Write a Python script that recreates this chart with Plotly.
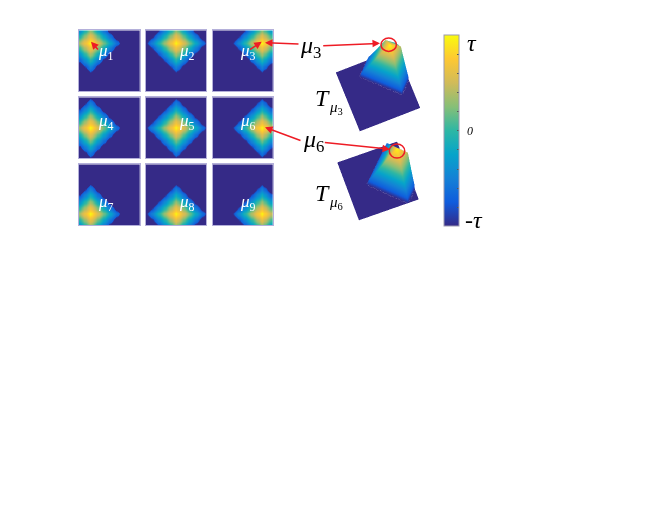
import plotly.graph_objects as go

# the page adds an 8px body margin round the figure
PAGE_MARGIN = 8
W, H = 652, 501

# value of the map by grid distance from mu (yellow peak down to the blue rim)
LEVELS = [1.0, 0.90, 0.82, 0.76, 0.70, 0.64, 0.58, 0.52, 0.45, 0.38, 0.30, 0.22, 0.14,
          0.06, -0.02, -0.10, -0.18, -0.26, -0.33, -0.40, -0.47, -0.54, -0.60, -0.67, -0.72]
BACKGROUND = -1.0
GRID_N = 51
COL_CENTERS = [9, 25, 41]
ROW_CENTERS = [10, 25, 41]
PANEL_NAMES = ["1", "2", "3", "4", "5", "6", "7", "8", "9"]
PARULA = ["#352a87", "#0f5cdd", "#1481d6", "#06a4ca", "#2eb7a4", "#87bf77", "#d1bb59", "#fec832", "#f9fb0e"]
BAR_TICKS = [-1.0, -0.8, -0.6, -0.4, -0.2, 0.0, 0.2, 0.4, 0.6, 0.8, 1.0]

# panel edges in pixels
COL_X = [(79, 139.7), (145.7, 206.3), (212.7, 273)]
ROW_Y = [(30.3, 91.3), (97.3, 158), (164.3, 225)]
LABEL_X = [105.7, 187.3, 248.3]
LABEL_Y = [51.7, 121.7, 203.3]


def px(x):
    return (x - PAGE_MARGIN) / W


def py(y):
    return 1 - (y - PAGE_MARGIN) / H


def panel_z(cx, cy):
    z = []
    for r in range(GRID_N):
        row = []
        for c in range(GRID_N):
            d = abs(c - cx) + abs(r - cy)
            row.append(LEVELS[d] if d < len(LEVELS) else BACKGROUND)
        z.append(row)
    return z


fig = go.Figure()
annotations = []
grid = list(range(GRID_N))

for r, cy in enumerate(ROW_CENTERS):
    for c, cx in enumerate(COL_CENTERS):
        i = r * 3 + c
        suffix = "" if i == 0 else str(i + 1)
        fig.add_trace(go.Heatmap(z=panel_z(cx, cy), x=grid, y=grid, coloraxis="coloraxis", zsmooth="best",
                                 xaxis="x" + suffix, yaxis="y" + suffix, hoverinfo="skip"))
        fig.update_layout({
            "xaxis" + suffix: dict(domain=[px(COL_X[c][0]), px(COL_X[c][1])], range=[-0.5, GRID_N - 0.5],
                                   visible=True, showticklabels=False, ticks="", showgrid=False, zeroline=False,
                                   showline=True, mirror=True, linecolor="#b4b0da", linewidth=1, anchor="y" + suffix),
            "yaxis" + suffix: dict(domain=[py(ROW_Y[r][1]), py(ROW_Y[r][0])], range=[GRID_N - 0.5, -0.5],
                                   visible=True, showticklabels=False, ticks="", showgrid=False, zeroline=False,
                                   showline=True, mirror=True, linecolor="#b4b0da", linewidth=1, anchor="x" + suffix),
        })
        annotations.append(dict(x=px(LABEL_X[c]), y=py(LABEL_Y[r]), xref="paper", yref="paper", showarrow=False,
                                xanchor="center", yanchor="middle",
                                text="<i>μ</i><sub>" + PANEL_NAMES[i] + "</sub>",
                                font=dict(family="Liberation Serif", size=17, color="white")))

# tilted surfaces for mu_3 and mu_6
surface_scene = ["scene", "scene2"]
surface_z = [panel_z(COL_CENTERS[2], ROW_CENTERS[0]), panel_z(COL_CENTERS[2], ROW_CENTERS[1])]
grid_y = [1 - g / (GRID_N - 1) for g in grid]
grid_x = [g / (GRID_N - 1) for g in grid]
for name, z in zip(surface_scene, surface_z):
    fig.add_trace(go.Surface(x=grid_x, y=grid_y, z=z, coloraxis="coloraxis", scene=name, hoverinfo="skip",
                             lighting=dict(ambient=1, diffuse=0, specular=0, fresnel=0, roughness=1)))

hidden = dict(visible=False, showgrid=False, zeroline=False, showticklabels=False, showbackground=False)


def camera(dist, up_x, up_y, tilt_sin, tilt_cos):
    return dict(projection=dict(type="orthographic"), up=dict(x=0, y=0, z=1),
                eye=dict(x=-up_x * tilt_sin * dist, y=-up_y * tilt_sin * dist, z=tilt_cos * dist))


fig.update_layout(
    scene=dict(domain=dict(x=[px(308), px(448)], y=[py(150), py(10)]),
               xaxis=dict(hidden, range=[0, 1]), yaxis=dict(hidden, range=[0, 1]), zaxis=dict(hidden, range=[-1, 1]),
               aspectmode="manual", aspectratio=dict(x=0.93, y=0.93, z=1.3), camera=camera(1.5, 0.37, 0.93, 0.224, 0.975)),
    scene2=dict(domain=dict(x=[px(308), px(448)], y=[py(238), py(98)]),
                xaxis=dict(hidden, range=[0, 1]), yaxis=dict(hidden, range=[0, 1]), zaxis=dict(hidden, range=[-1, 1]),
                aspectmode="manual", aspectratio=dict(x=0.91, y=0.91, z=1.45), camera=camera(1.5, 0.34, 0.94, 0.255, 0.967)),
)

# arrows, tail then head in pixels
ARROWS = [(99.3, 51, 91, 41.7), (248.3, 50.7, 261.7, 41.7), (300, 44, 265, 42.7), (302, 141, 265, 127.3),
          (321.7, 45.7, 380, 43.3), (323.3, 142.3, 390, 149.3)]
for x0, y0, x1, y1 in ARROWS:
    annotations.append(dict(x=px(x1), y=py(y1), xref="paper", yref="paper", ax=x0 - x1, ay=y0 - y1, showarrow=True, text="",
                            arrowhead=2, arrowsize=1, arrowwidth=1.5, arrowcolor="#ee1c25"))

# big labels
big_font = dict(family="Liberation Serif", color="black")
TEXTS = [(310, 47, "<i>μ</i><sub>3</sub>", 24), (313, 141, "<i>μ</i><sub>6</sub>", 24),
         (322, 98, "<i>T</i>", 24), (336, 108, "<i>μ</i><sub>3</sub>", 15),
         (322, 193, "<i>T</i>", 24), (336, 203, "<i>μ</i><sub>6</sub>", 15),
         (472, 43, "<i>τ</i>", 24), (470, 131, "<i>0</i>", 12), (474, 220, "-<i>τ</i>", 24)]
for x, y, text, size in TEXTS:
    annotations.append(dict(x=px(x), y=py(y), xref="paper", yref="paper", showarrow=False, text=text,
                            xanchor="center", yanchor="middle", font=dict(big_font, size=size)))

ELLIPSES = [(388.7, 44.7, 7.7, 6.7), (397, 151, 7.7, 7)]
shapes = [dict(type="circle", xref="paper", yref="paper", x0=px(x - a), x1=px(x + a), y0=py(y + b), y1=py(y - b),
               line=dict(color="#ee1c25", width=1.5)) for x, y, a, b in ELLIPSES]

fig.update_layout(
    width=W, height=H, margin=dict(l=0, r=0, t=0, b=0), showlegend=False,
    paper_bgcolor="white", plot_bgcolor="white",
    annotations=annotations, shapes=shapes,
    coloraxis=dict(colorscale=PARULA, cmin=-1, cmax=1,
                   colorbar=dict(x=px(443.5), xanchor="left", xpad=0, y=py(35.3), yanchor="top", ypad=0,
                                 lenmode="pixels", len=191, thicknessmode="pixels", thickness=15,
                                 tickmode="array", tickvals=BAR_TICKS, ticktext=[""] * len(BAR_TICKS),
                                 ticks="inside", ticklen=2, tickcolor="#555555", tickwidth=1,
                                 outlinecolor="#9c9ab0", outlinewidth=1)),
)

fig.write_html("out.html")
